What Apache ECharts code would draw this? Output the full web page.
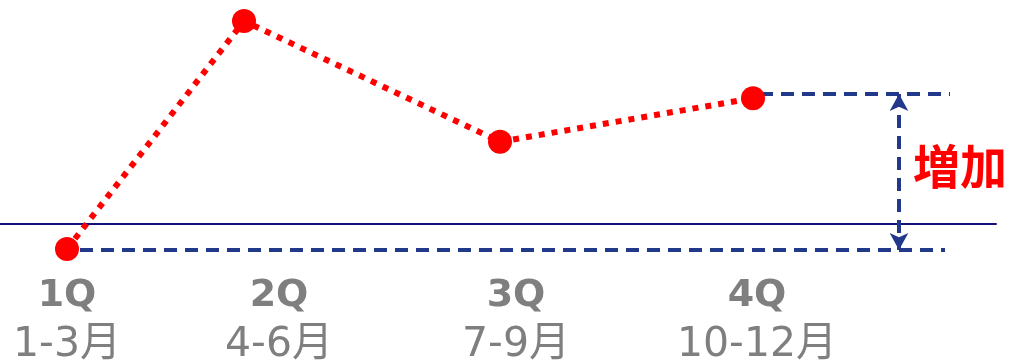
<!DOCTYPE html>
<html>
<head>
<meta charset="utf-8">
<script src="https://cdn.jsdelivr.net/npm/echarts@6/dist/echarts.min.js"></script>
<style>html,body{margin:0;padding:0;background:#fff;}#c{width:1012px;height:363px;}</style>
</head>
<body>
<div id="c"></div>
<script>
// categories and tick labels
const quarters = ['1Q', '2Q', '3Q', '4Q'];
const months = ['1-3月', '4-6月', '7-9月', '10-12月'];
const labelX = [0.67, 2.79, 5.16, 7.57];
// series values (x position, level)
const pointX = [0.67, 2.44, 5.00, 7.53];
const pointY = [-10, 81.2, 32.9, 50.3];
// annotation levels
const baseLevel = -10.4;
const topLevel = 52;
const arrowX = 8.99;
const lowerLineX = [0.80, 9.45];
const upperLineX = [7.60, 9.50];
const annotationText = '増加';

const chart = echarts.init(document.getElementById('c'));
const navyDash = { color: '#22388a', width: 4, type: [13, 8] };
chart.setOption({
  animation: false,
  grid: [
    { left: 0, top: 4, width: 996, bottom: 14, containLabel: false, outerBoundsMode: 'none' },
    { left: 0, top: 0, width: 996, height: 224, containLabel: false, outerBoundsMode: 'none' }
  ],
  xAxis: [{
    type: 'value', min: 0, max: 9.96, gridIndex: 0,
    axisLine: { show: true, onZero: true, lineStyle: { color: '#13137c', width: 2 } },
    axisTick: { show: false },
    splitLine: { show: false },
    axisLabel: { show: false }
  }, {
    type: 'value', min: 0, max: 9.96, gridIndex: 1, position: 'bottom',
    axisLine: { show: false, onZero: false },
    axisTick: { show: false },
    splitLine: { show: false },
    axisLabel: {
      customValues: labelX,
      margin: 45,
      hideOverlap: false,
      formatter: function (v) {
        let best = 0;
        for (let i = 0; i < labelX.length; i++) if (Math.abs(labelX[i] - v) < Math.abs(labelX[best] - v)) best = i;
        return '{a|' + quarters[best] + '}\n{b|' + months[best] + '}';
      },
      rich: {
        a: { fontFamily: 'DejaVu Sans', fontWeight: 'bold', fontSize: 38, color: '#7f7f7f', lineHeight: 54 },
        b: { fontFamily: 'DejaVu Sans, Noto Sans CJK JP', fontSize: 41, color: '#7f7f7f', lineHeight: 44 }
      }
    }
  }],
  yAxis: [
    { type: 'value', min: -50, max: 88, show: false, splitLine: { show: false }, gridIndex: 0 },
    { type: 'value', min: 0, max: 1, show: false, splitLine: { show: false }, gridIndex: 1 }
  ],
  graphic: [{
    type: 'text', x: 913, y: 166,
    style: { text: annotationText, fill: '#ff0000', font: 'bold 47px "Noto Sans CJK JP"', verticalAlign: 'middle', align: 'left' }
  }],
  series: [
    {
      type: 'line', data: [], z: 1, silent: true,
      markLine: {
        silent: true, symbol: ['none', 'none'], label: { show: false },
        lineStyle: navyDash,
        data: [
          [{ coord: [lowerLineX[0], baseLevel] }, { coord: [lowerLineX[1], baseLevel] }],
          [{ coord: [upperLineX[0], topLevel] }, { coord: [upperLineX[1], topLevel] }],
          [{ coord: [arrowX, topLevel], symbol: 'arrow', symbolSize: [14, 17] },
           { coord: [arrowX, baseLevel], symbol: 'arrow', symbolSize: [14, 17] }]
        ]
      }
    },
    {
      type: 'line', z: 5,
      data: pointX.map((x, i) => [x, pointY[i]]),
      symbol: 'circle', symbolSize: 24,
      itemStyle: { color: '#ff0000' },
      lineStyle: { color: '#ff0000', width: 6, type: [6, 7] }
    }
  ]
});
</script>
</body>
</html>
